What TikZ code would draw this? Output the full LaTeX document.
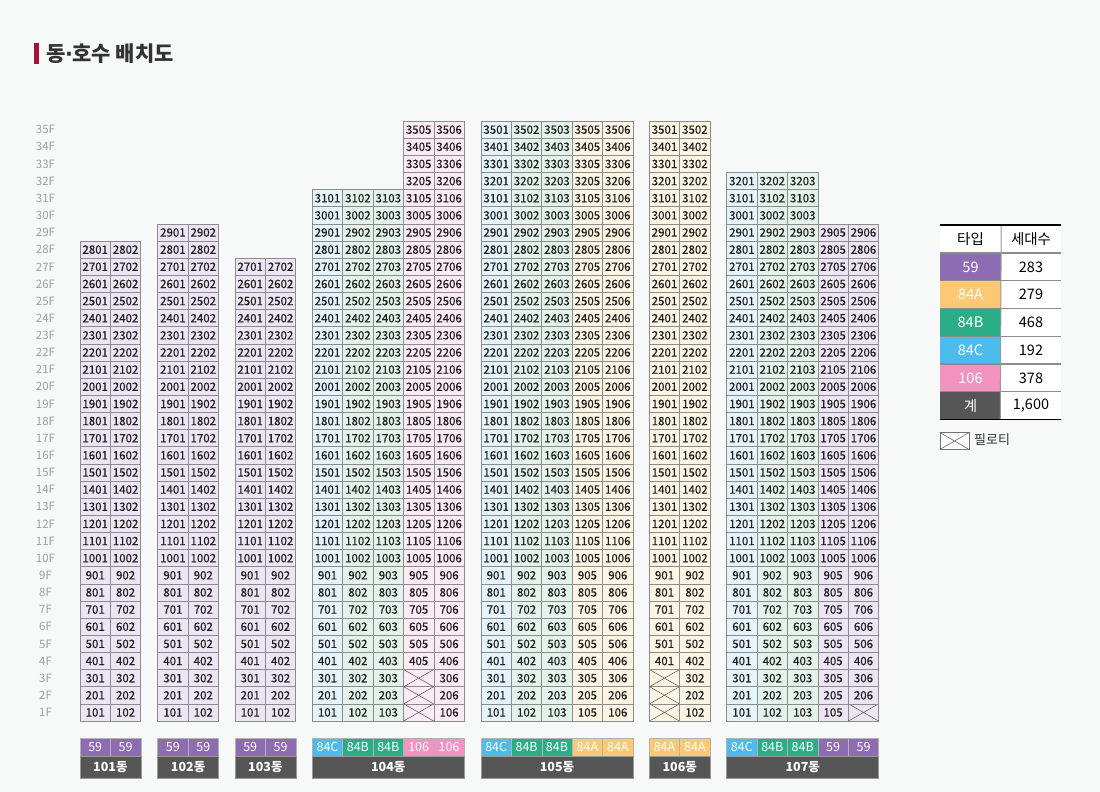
\documentclass[tikz,border=0pt]{standalone}
\usepackage{fontspec}
\setmainfont{Noto Sans CJK KR}
\newfontfamily\cellfont{Noto Sans CJK KR}[FakeBold=0.35]
\newfontfamily\dotfont{DejaVu Sans}
\definecolor{bg}{HTML}{F7F8F8}
\definecolor{cellline}{HTML}{8C8C8C}
\definecolor{cA}{HTML}{8E6CB1}
\definecolor{cB}{HTML}{FCC875}
\definecolor{cC}{HTML}{2BAE87}
\definecolor{cD}{HTML}{4DBBEC}
\definecolor{cE}{HTML}{F293C0}
\definecolor{cTot}{HTML}{565656}
\definecolor{lA}{HTML}{ECE6F4}
\definecolor{lB}{HTML}{FDF5E4}
\definecolor{lC}{HTML}{E3F2EB}
\definecolor{lD}{HTML}{E5F3FA}
\definecolor{lE}{HTML}{FCEBF2}
\definecolor{titlered}{HTML}{A3123F}
\definecolor{floorgray}{HTML}{A0A0A0}
\newcommand\ucol[7]{% #1 bld, #2 left x, #3 col idx, #4 fill, #5 suffix, #6 top floor, #7 pilotis up to
  \foreach \f in {1,...,#6}{%
    \pgfmathsetmacro\cx{#2+(#3+0.5)*30.4}%
    \pgfmathsetmacro\cy{721-(\f-0.5)*17.14}%
    \ifnum\f>#7\relax
      \node[cell,fill=#4] (u#1-\f#5) at (\cx,\cy) {\f#5};%
    \else
      \node[cell,fill=#4] (u#1-\f#5) at (\cx,\cy) {};%
      \draw[pil] (u#1-\f#5.north west) -- (u#1-\f#5.south east) (u#1-\f#5.north east) -- (u#1-\f#5.south west);%
    \fi}}
\newcommand\tcell[5]{% name, left x, col idx, color, text
  \node[tcell,fill=#4] (#1) at ({#2+(#3+0.5)*30.4},747) {#5};}
\newcommand\nbar[4]{% name, left x, ncols, text
  \node[nbarst,minimum width={#3*30.4pt}] (#1) at ({#2+#3*15.2},767) {#4};}
\begin{document}
\begin{tikzpicture}[x=1pt,y=-1pt,
  cell/.style={draw=cellline,line width=0.7pt,minimum width=30.4pt,minimum height=17.14pt,inner sep=0pt,font=\cellfont\fontsize{11.5}{12}\selectfont,text=black!88},
  pil/.style={draw=black!60,line width=0.6pt},
  flr/.style={font=\fontsize{11.5}{12}\selectfont,text=floorgray,inner sep=0pt},
  tcell/.style={draw=black!30,line width=0.5pt,minimum width=30.4pt,minimum height=18pt,inner sep=0pt,text=white,font=\fontsize{12.5}{13}\selectfont},
  nbarst/.style={fill=cTot,draw=black!40,line width=0.5pt,minimum height=22pt,inner sep=0pt,text=white,font=\bfseries\fontsize{12.5}{13}\selectfont},
  lg/.style={minimum width=61pt,minimum height=27.75pt,inner sep=0pt,font=\fontsize{14.5}{15}\selectfont},
]
\fill[bg] (0,0) rectangle (1100,792);
\useasboundingbox (0,0) rectangle (1100,792);
% title
\fill[titlered] (34,43.5) rectangle (39.3,64.3);
\node[anchor=west,inner sep=0pt,font=\bfseries\fontsize{21}{22}\selectfont,text=black!80] (title) at (46,54) {동{\dotfont\bfseries\kern-0.5pt·\kern-0.5pt}호수 배치도};
% floor labels
\foreach \f in {1,...,35}{\node[flr] (fl\f) at (45.5,{721-(\f-0.5)*17.14}) {\f F};}
% 101
\ucol{101}{80}{0}{lA}{01}{28}{0}\ucol{101}{80}{1}{lA}{02}{28}{0}
% 102
\ucol{102}{157.7}{0}{lA}{01}{29}{0}\ucol{102}{157.7}{1}{lA}{02}{29}{0}
% 103
\ucol{103}{235}{0}{lA}{01}{27}{0}\ucol{103}{235}{1}{lA}{02}{27}{0}
% 104
\ucol{104}{312.3}{0}{lD}{01}{31}{0}\ucol{104}{312.3}{1}{lC}{02}{31}{0}\ucol{104}{312.3}{2}{lC}{03}{31}{0}
\ucol{104}{312.3}{3}{lE}{05}{35}{3}\ucol{104}{312.3}{4}{lE}{06}{35}{0}
% 105
\ucol{105}{481}{0}{lD}{01}{35}{0}\ucol{105}{481}{1}{lC}{02}{35}{0}\ucol{105}{481}{2}{lC}{03}{35}{0}
\ucol{105}{481}{3}{lB}{05}{35}{0}\ucol{105}{481}{4}{lB}{06}{35}{0}
% 106
\ucol{106}{649.3}{0}{lB}{01}{35}{3}\ucol{106}{649.3}{1}{lB}{02}{35}{0}
% 107
\ucol{107}{726.7}{0}{lD}{01}{32}{0}\ucol{107}{726.7}{1}{lC}{02}{32}{0}\ucol{107}{726.7}{2}{lC}{03}{32}{0}
\ucol{107}{726.7}{3}{lA}{05}{29}{0}\ucol{107}{726.7}{4}{lA}{06}{29}{1}
% type row and name bars
\tcell{t101a}{80}{0}{cA}{59}\tcell{t101b}{80}{1}{cA}{59}\nbar{n101}{80}{2}{101동}
\tcell{t102a}{157.7}{0}{cA}{59}\tcell{t102b}{157.7}{1}{cA}{59}\nbar{n102}{157.7}{2}{102동}
\tcell{t103a}{235}{0}{cA}{59}\tcell{t103b}{235}{1}{cA}{59}\nbar{n103}{235}{2}{103동}
\tcell{t104a}{312.3}{0}{cD}{84C}\tcell{t104b}{312.3}{1}{cC}{84B}\tcell{t104c}{312.3}{2}{cC}{84B}\tcell{t104d}{312.3}{3}{cE}{106}\tcell{t104e}{312.3}{4}{cE}{106}\nbar{n104}{312.3}{5}{104동}
\tcell{t105a}{481}{0}{cD}{84C}\tcell{t105b}{481}{1}{cC}{84B}\tcell{t105c}{481}{2}{cC}{84B}\tcell{t105d}{481}{3}{cB}{84A}\tcell{t105e}{481}{4}{cB}{84A}\nbar{n105}{481}{5}{105동}
\tcell{t106a}{649.3}{0}{cB}{84A}\tcell{t106b}{649.3}{1}{cB}{84A}\nbar{n106}{649.3}{2}{106동}
\tcell{t107a}{726.7}{0}{cD}{84C}\tcell{t107b}{726.7}{1}{cC}{84B}\tcell{t107c}{726.7}{2}{cC}{84B}\tcell{t107d}{726.7}{3}{cA}{59}\tcell{t107e}{726.7}{4}{cA}{59}\nbar{n107}{726.7}{5}{107동}
% legend table
\fill[white] (940,225) rectangle (1061,419.5);
\node[lg,minimum height=28pt] (hA) at (970.5,239) {타입};
\node[lg,minimum height=28pt] (hB) at (1031,239) {세대수};
\node[lg,fill=cA,text=white] (k1) at (970.5,266.9) {59};
\node[lg] (v1) at (1031,266.9) {283};
\node[lg,fill=cB,text=white] (k2) at (970.5,294.6) {84A};
\node[lg] (v2) at (1031,294.6) {279};
\node[lg,fill=cC,text=white] (k3) at (970.5,322.4) {84B};
\node[lg] (v3) at (1031,322.4) {468};
\node[lg,fill=cD,text=white] (k4) at (970.5,350.1) {84C};
\node[lg] (v4) at (1031,350.1) {192};
\node[lg,fill=cE,text=white] (k5) at (970.5,377.9) {106};
\node[lg] (v5) at (1031,377.9) {378};
\node[lg,fill=cTot,text=white] (k6) at (970.5,405.6) {계};
\node[lg] (v6) at (1031,405.6) {1,600};
\foreach \y in {253,280.75,308.5,336.25,364,391.75}{\draw[black!45,line width=1.1pt] (940,\y) -- (1061,\y);}
\draw[black!40,line width=1pt] (hA.north east) -- (v6.south west);
\draw[black,line width=1.8pt] (940,225) -- (1061,225);
\draw[black,line width=1.8pt] (940,419.5) -- (1061,419.5);
% pilotis legend
\node[draw=black!55,fill=white,line width=0.6pt,minimum width=29pt,minimum height=16.5pt,inner sep=0pt] (pbox) at (954.5,441) {};
\draw[pil] (pbox.north west) -- (pbox.south east) (pbox.north east) -- (pbox.south west);
\node[anchor=west,inner sep=0pt,font=\fontsize{13}{14}\selectfont,text=black!80] (ptxt) at (974,440) {필로티};
\end{tikzpicture}
\end{document}
